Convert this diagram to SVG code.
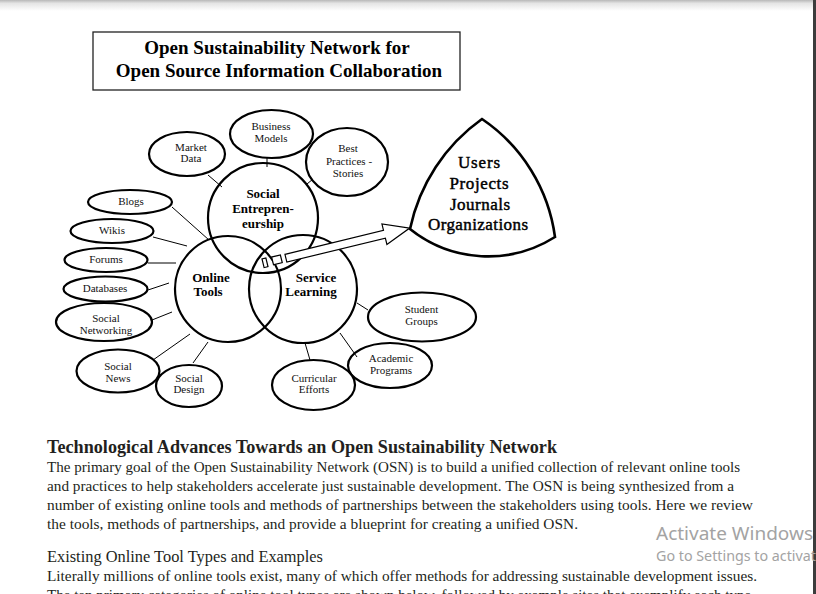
<svg xmlns="http://www.w3.org/2000/svg" width="816" height="594" viewBox="0 0 816 594">
<defs>
<linearGradient id="topfade" x1="0" y1="0" x2="0" y2="1">
<stop offset="0" stop-color="#b8b8b8"/>
<stop offset="0.3" stop-color="#e4e4e4"/>
<stop offset="1" stop-color="#ffffff"/>
</linearGradient>
<style>
.node ellipse, .node circle { fill: none; stroke: #000; stroke-width: 2.2; }
.conn line { stroke: #000; stroke-width: 1; }
.lbl { font-family: "Liberation Serif", "Times New Roman", serif; font-size: 11px; fill: #111; text-anchor: middle; }
.big { font-family: "Liberation Serif", "Times New Roman", serif; font-size: 13px; font-weight: bold; fill: #000; text-anchor: middle; }
.tri { font-family: "Liberation Serif", "Times New Roman", serif; font-size: 17px; fill: #000; stroke: #000; stroke-width: 0.45; text-anchor: middle; }
.title { font-family: "Liberation Serif", "Times New Roman", serif; font-size: 19px; font-weight: bold; fill: #000; text-anchor: middle; }
.body { font-family: "Liberation Serif", "Times New Roman", serif; font-size: 14.5px; fill: #231f20; }
.head { font-family: "Liberation Serif", "Times New Roman", serif; font-size: 18px; font-weight: bold; fill: #231f20; }
.sub { font-family: "Liberation Serif", "Times New Roman", serif; font-size: 16px; fill: #231f20; }
.win { font-family: "Noto Sans", "Open Sans", sans-serif; fill: #a3a3a3; }
</style>
</defs>
<rect width="816" height="594" fill="#fff"/>
<rect x="0" y="0" width="816" height="11" fill="url(#topfade)"/>
<rect x="813" y="0" width="3" height="594" fill="#3c3c3c"/>

<g id="title">
<rect x="93" y="32" width="367" height="58" fill="#fff" stroke="#222" stroke-width="1.3"/>
<text class="title" x="277" y="54">Open Sustainability Network for</text>
<text class="title" x="279" y="77">Open Source Information Collaboration</text>
</g>

<g id="connectors" class="conn">
<line x1="208" y1="175" x2="222" y2="187"/>
<line x1="267" y1="158" x2="267" y2="167"/>
<line x1="307" y1="184" x2="313" y2="179"/>
<line x1="172" y1="207" x2="209" y2="240"/>
<line x1="153" y1="237" x2="187" y2="246"/>
<line x1="148" y1="263" x2="176" y2="263"/>
<line x1="148" y1="290" x2="169" y2="283"/>
<line x1="152" y1="320" x2="172" y2="312"/>
<line x1="153" y1="360" x2="190" y2="334"/>
<line x1="193" y1="363" x2="208" y2="342"/>
<line x1="310" y1="360" x2="305" y2="343"/>
<line x1="357" y1="357" x2="340" y2="333"/>
<line x1="368" y1="310" x2="357" y2="303"/>
</g>

<g id="social-entrepreneurship" class="node">
<circle cx="263" cy="218" r="55"/>
<text class="big" x="263" y="198">Social</text>
<text class="big" x="263" y="213">Entrepren-</text>
<text class="big" x="263" y="228">eurship</text>
</g>
<g id="online-tools" class="node">
<circle cx="228" cy="289" r="53"/>
<text class="big" x="211" y="282">Online</text>
<text class="big" x="208" y="296">Tools</text>
</g>
<g id="service-learning" class="node">
<circle cx="303" cy="289" r="54"/>
<text class="big" x="316" y="282">Service</text>
<text class="big" x="311" y="296">Learning</text>
</g>

<g id="market-data" class="node">
<ellipse cx="187" cy="154" rx="38" ry="22"/>
<text class="lbl" x="191" y="151">Market</text>
<text class="lbl" x="191" y="162">Data</text>
</g>
<g id="business-models" class="node">
<ellipse cx="271.5" cy="134" rx="41.5" ry="24"/>
<text class="lbl" x="271" y="130">Business</text>
<text class="lbl" x="271" y="142">Models</text>
</g>
<g id="best-practices" class="node">
<ellipse cx="347" cy="162" rx="41" ry="34"/>
<text class="lbl" x="348" y="152">Best</text>
<text class="lbl" x="349" y="165">Practices -</text>
<text class="lbl" x="348" y="177">Stories</text>
</g>
<g id="blogs" class="node">
<ellipse cx="130" cy="202" rx="42" ry="12"/>
<text class="lbl" x="131" y="205">Blogs</text>
</g>
<g id="wikis" class="node">
<ellipse cx="112" cy="231" rx="41.5" ry="12"/>
<text class="lbl" x="112" y="234">Wikis</text>
</g>
<g id="forums" class="node">
<ellipse cx="106" cy="260" rx="41.5" ry="12"/>
<text class="lbl" x="106" y="263">Forums</text>
</g>
<g id="databases" class="node">
<ellipse cx="105.5" cy="289" rx="42" ry="12.5"/>
<text class="lbl" x="105" y="292">Databases</text>
</g>
<g id="social-networking" class="node">
<ellipse cx="104" cy="322" rx="48" ry="19"/>
<text class="lbl" x="106" y="322">Social</text>
<text class="lbl" x="106" y="334">Networking</text>
</g>
<g id="social-news" class="node">
<ellipse cx="118" cy="371" rx="41.5" ry="21.5"/>
<text class="lbl" x="118" y="370">Social</text>
<text class="lbl" x="118" y="382">News</text>
</g>
<g id="social-design" class="node">
<ellipse cx="189" cy="386" rx="33" ry="21"/>
<text class="lbl" x="189" y="382">Social</text>
<text class="lbl" x="189" y="393">Design</text>
</g>
<g id="curricular-efforts" class="node">
<ellipse cx="313.5" cy="385" rx="41.5" ry="25"/>
<text class="lbl" x="314" y="382">Curricular</text>
<text class="lbl" x="314" y="393">Efforts</text>
</g>
<g id="academic-programs" class="node">
<ellipse cx="390" cy="365.5" rx="42" ry="22.5"/>
<text class="lbl" x="391" y="362">Academic</text>
<text class="lbl" x="391" y="374">Programs</text>
</g>
<g id="student-groups" class="node">
<ellipse cx="422" cy="317" rx="54" ry="24.5"/>
<text class="lbl" x="421.5" y="313">Student</text>
<text class="lbl" x="421.5" y="325">Groups</text>
</g>

<g id="arrow" transform="translate(262,264) rotate(-13.67)" fill="#fff" stroke="#000" stroke-width="1.2">
<rect x="1.2" y="-5" width="4" height="9"/>
<rect x="11" y="-4.5" width="9" height="8"/>
<polygon points="24.6,-4 126,-4 126,-10.5 152,0 126,10.5 126,4 24.6,4"/>
</g>

<g id="users-projects">
<path d="M482,119 A180,180 0 0 0 410,229 A125,125 0 0 0 555,237 A170,170 0 0 0 482,119 Z" fill="#fff" stroke="#000" stroke-width="2.6" stroke-linejoin="miter"/>
<text class="tri" x="479" y="168" textLength="42" lengthAdjust="spacing">Users</text>
<text class="tri" x="479" y="189" textLength="59" lengthAdjust="spacing">Projects</text>
<text class="tri" x="480" y="210" textLength="60" lengthAdjust="spacing">Journals</text>
<text class="tri" x="478" y="230" textLength="100" lengthAdjust="spacing">Organizations</text>
</g>

<g id="body-text">
<text class="head" x="47" y="453" textLength="510" lengthAdjust="spacingAndGlyphs">Technological Advances Towards an Open Sustainability Network</text>
<text class="body" x="47" y="471.5" textLength="693" lengthAdjust="spacingAndGlyphs">The primary goal of the Open Sustainability Network (OSN) is to build a unified collection of relevant online tools</text>
<text class="body" x="47" y="490.5" textLength="687" lengthAdjust="spacingAndGlyphs">and practices to help stakeholders accelerate just sustainable development. The OSN is being synthesized from a</text>
<text class="body" x="47" y="509.5" textLength="706" lengthAdjust="spacingAndGlyphs">number of existing online tools and methods of partnerships between the stakeholders using tools. Here we review</text>
<text class="body" x="47" y="528.5" textLength="531" lengthAdjust="spacingAndGlyphs">the tools, methods of partnerships, and provide a blueprint for creating a unified OSN.</text>
<text class="sub" x="47" y="562" textLength="276" lengthAdjust="spacingAndGlyphs">Existing Online Tool Types and Examples</text>
<text class="body" x="47" y="580.5" textLength="710" lengthAdjust="spacingAndGlyphs">Literally millions of online tools exist, many of which offer methods for addressing sustainable development issues.</text>
<text class="body" x="47" y="599.5" textLength="708" lengthAdjust="spacingAndGlyphs">The ten primary categories of online tool types are shown below, followed by example sites that exemplify each type.</text>
</g>

<g id="watermark">
<text class="win" x="656" y="540" font-size="18.5" textLength="157" lengthAdjust="spacingAndGlyphs">Activate Windows</text>
<text class="win" x="656" y="561" font-size="14" textLength="160" lengthAdjust="spacingAndGlyphs">Go to Settings to activat</text>
</g>
</svg>
